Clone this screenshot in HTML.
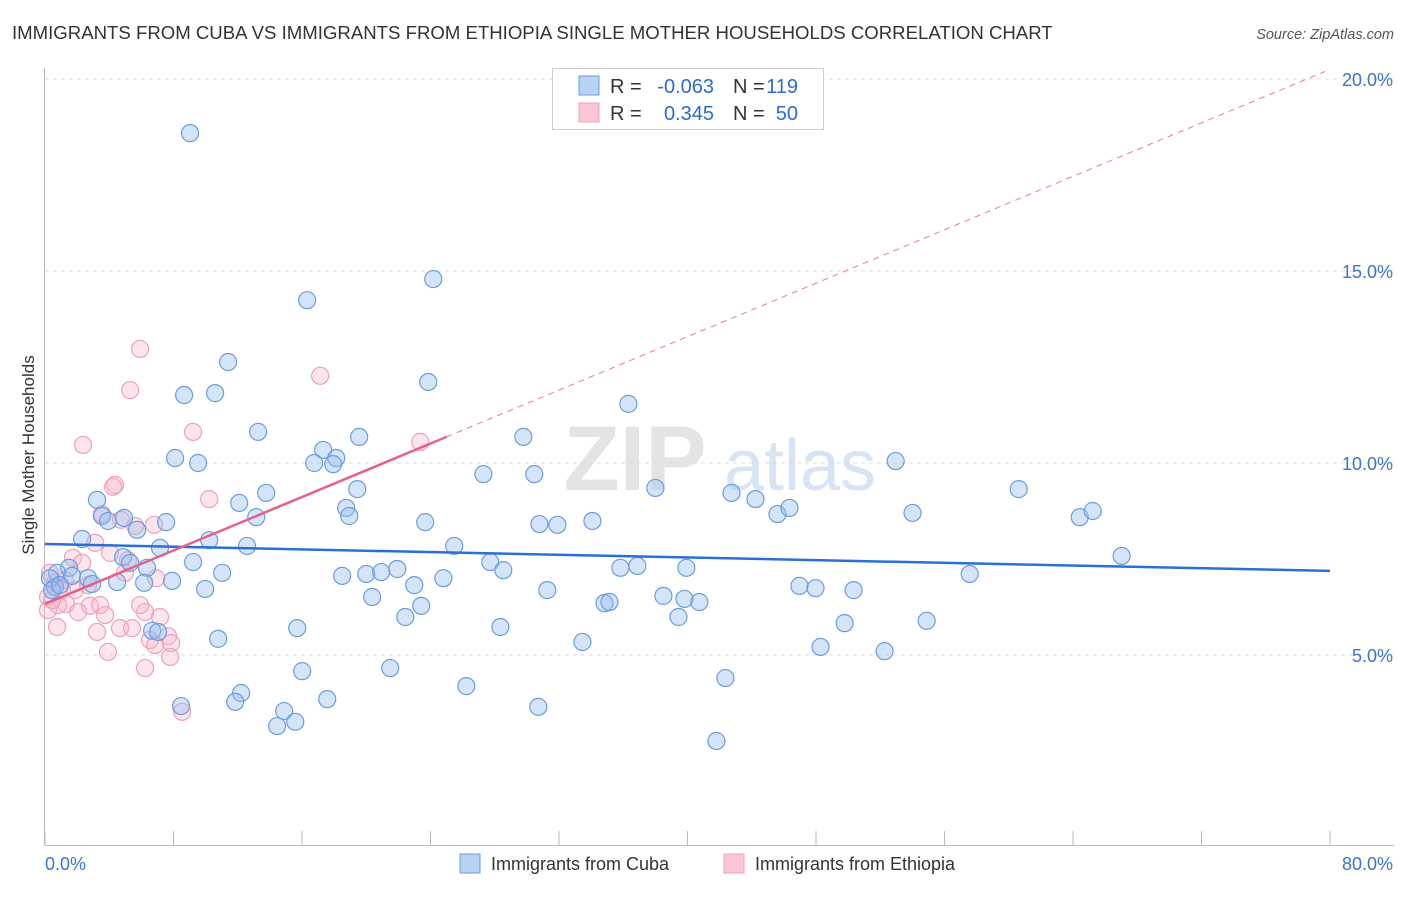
<!DOCTYPE html>
<html><head><meta charset="utf-8"><style>
body{margin:0;background:#fff;font-family:"Liberation Sans",sans-serif;}
svg text{font-family:"Liberation Sans",sans-serif;}
</style></head><body>
<svg id="chart" width="1406" height="892" xmlns="http://www.w3.org/2000/svg">
<text x="12" y="39" font-size="18.6" fill="#333">IMMIGRANTS FROM CUBA VS IMMIGRANTS FROM ETHIOPIA SINGLE MOTHER HOUSEHOLDS CORRELATION CHART</text>
<text x="1394" y="39" font-size="14.5" fill="#555" font-style="italic" text-anchor="end">Source: ZipAtlas.com</text>
<g>
<text x="635" y="490" font-size="92" font-family="Liberation Serif,serif" fill="#e4e4e4" text-anchor="middle" font-weight="bold">ZIP</text>
<text x="800" y="490" font-size="72" fill="#d6e4f4" text-anchor="middle">atlas</text>
</g>
<g id="grid"></g>
<g id="axes"></g>
<g id="marks"></g>
<text x="34" y="455" font-size="17" fill="#333" text-anchor="middle" transform="rotate(-90 34 455)">Single Mother Households</text>
<g>
<rect x="552.5" y="68.5" width="271" height="61" fill="#fff" stroke="#ccc"/>
<rect x="579" y="76" width="20" height="19" fill="#b8d2f4" stroke="#6a9de0"/>
<rect x="579" y="103" width="20" height="19" fill="#fac6d4" stroke="#f0a0b8"/>
<text x="610" y="93" font-size="20" fill="#333">R =</text>
<text x="714" y="93" font-size="20" fill="#2d6bd4" text-anchor="end">-0.063</text>
<text x="733" y="93" font-size="20" fill="#333">N =</text>
<text x="798" y="93" font-size="20" fill="#2d6bd4" text-anchor="end">119</text>
<text x="610" y="120" font-size="20" fill="#333">R =</text>
<text x="714" y="120" font-size="20" fill="#2d6bd4" text-anchor="end">0.345</text>
<text x="733" y="120" font-size="20" fill="#333">N =</text>
<text x="798" y="120" font-size="20" fill="#2d6bd4" text-anchor="end">50</text>
</g>
<g>
<rect x="460" y="854" width="20" height="19" fill="#b8d2f4" stroke="#6a9de0"/>
<text x="491" y="870" font-size="18" fill="#333">Immigrants from Cuba</text>
<rect x="724" y="854" width="20" height="19" fill="#fac6d4" stroke="#f0a0b8"/>
<text x="755" y="870" font-size="18" fill="#333">Immigrants from Ethiopia</text>
</g>
</svg>
<script>
const yTicks=[5,10,15,20];
const yTickLabels=["5.0%","10.0%","15.0%","20.0%"];
const xTickLabels=["0.0%","80.0%"];
const cubaX=[9.03,16.32,24.17,11.40,23.86,8.66,10.59,36.32,13.27,19.56,29.78,8.10,9.53,17.32,18.13,16.76,17.94,52.96,27.29,30.46,3.24,13.77,12.09,19.44,38.0,42.74,44.23,60.62,18.75,18.94,13.15,3.55,3.92,4.92,5.73,7.54,23.67,30.78,31.90,34.08,45.60,46.35,54.01,64.42,65.23,10.22,2.31,7.16,12.58,25.48,67.03,4.86,5.30,9.22,1.50,0.75,1.68,2.68,6.35,11.03,18.50,20.0,20.93,21.93,27.72,28.53,24.80,35.82,36.88,39.93,57.57,4.49,6.17,7.91,2.93,0.62,9.97,22.99,31.27,46.97,47.97,50.34,20.37,23.42,22.43,34.83,35.14,38.50,39.81,40.74,39.44,6.67,7.04,15.70,28.35,49.78,54.89,10.78,33.46,48.28,52.27,16.01,21.49,42.36,26.23,12.21,11.84,8.47,17.57,30.71,14.89,14.45,15.58,41.80,0.31,0.44,0.93];
const cubaY=[18.59,14.24,14.79,12.63,12.11,11.77,11.82,11.54,10.81,10.68,10.68,10.13,10.0,10.34,10.13,10.0,9.97,10.05,9.71,9.71,9.04,9.22,8.96,9.32,9.35,9.22,9.06,9.32,8.83,8.62,8.59,8.62,8.49,8.57,8.26,8.46,8.46,8.41,8.39,8.49,8.67,8.83,8.70,8.59,8.75,7.99,8.02,7.79,7.84,7.84,7.58,7.55,7.40,7.42,7.27,7.14,7.06,7.0,7.27,7.14,7.06,7.11,7.16,7.24,7.42,7.21,7.0,7.27,7.32,7.27,7.11,6.90,6.88,6.93,6.85,6.77,6.72,6.82,6.69,6.80,6.74,6.69,6.51,6.28,5.99,6.35,6.38,6.54,6.46,6.38,5.99,5.63,5.60,5.70,5.73,5.83,5.89,5.42,5.34,5.21,5.10,4.58,4.66,4.40,4.19,4.01,3.78,3.67,3.85,3.65,3.54,3.15,3.26,2.76,7.0,6.69,6.82];
const ethX=[5.92,5.30,17.13,2.37,9.22,23.36,4.36,4.24,10.22,3.55,4.73,6.79,5.61,3.12,4.05,1.74,2.31,6.92,4.98,0.31,0.62,1.06,0.19,1.31,0.81,2.80,3.43,2.06,3.74,6.23,7.16,0.75,3.24,4.67,5.42,7.66,6.54,6.85,7.85,3.92,7.79,6.23,8.54,1.25,1.87,0.19,0.44,2.68,5.92,5.17];
const ethY=[12.97,11.90,12.27,10.47,10.81,10.55,9.43,9.38,9.06,8.67,8.52,8.39,8.36,7.92,7.66,7.53,7.40,7.0,7.14,7.14,6.88,6.69,6.51,6.33,6.30,6.28,6.30,6.12,6.04,6.12,5.99,5.73,5.60,5.70,5.70,5.49,5.39,5.26,5.31,5.08,4.95,4.66,3.52,6.95,6.69,6.17,6.43,6.82,6.30,7.47];
const cubaTrend=[7.89,7.19];
const ethTrend=[6.33,0.174];
const ethSolidEnd=25.0;

const NS="http://www.w3.org/2000/svg";
const X0=45,X1=1330,Y0=847,PX=(X1-X0)/80,PY=768/20;
function sx(v){return X0+v*PX;}
function sy(v){return Y0-v*PY;}
function el(tag,attrs,parent){const e=document.createElementNS(NS,tag);for(const k in attrs)e.setAttribute(k,attrs[k]);parent.appendChild(e);return e;}
const grid=document.getElementById('grid'),axes=document.getElementById('axes'),marks=document.getElementById('marks');
yTicks.forEach((t,i)=>{
 const g=el('line',{x1:45,x2:1394,y1:sy(t),y2:sy(t),stroke:'#ddd','stroke-dasharray':'4,4'},grid);
 
 
 const tx=el('text',{x:1393,y:sy(t)+7,'font-size':18,fill:'#3b73d6','text-anchor':'end'},axes);
 tx.textContent=yTickLabels[i];
 
 
});
const ya=el('line',{x1:44.5,x2:44.5,y1:68,y2:845,stroke:'#bbb'},axes);


const xa=el('line',{x1:45,x2:1394,y1:845.5,y2:845.5,stroke:'#bbb'},axes);


for(let i=0;i<=10;i++){
 const t=el('line',{x1:sx(i*8),x2:sx(i*8),y1:831,y2:845,stroke:'#bbb'},axes);
 
 
}
const xl0=el('text',{x:45,y:870,'font-size':18,fill:'#3b73d6'},axes);
xl0.textContent=xTickLabels[0];


const xl1=el('text',{x:1393,y:870,'font-size':18,fill:'#3b73d6','text-anchor':'end'},axes);
xl1.textContent=xTickLabels[1];



ethX.forEach((x,i)=>{
 const c=el('circle',{cx:sx(x),cy:sy(ethY[i]),r:8.5,fill:'rgba(248,180,200,0.35)',stroke:'#f0a0b8','stroke-width':1.2},marks);
 
 
});
cubaX.forEach((x,i)=>{
 const c=el('circle',{cx:sx(x),cy:sy(cubaY[i]),r:8.5,fill:'rgba(150,190,240,0.4)',stroke:'#6a9de0','stroke-width':1.2},marks);
 
 
});
const cl=el('line',{x1:sx(0),y1:sy(cubaTrend[0]),x2:sx(80),y2:sy(cubaTrend[1]),stroke:'#2a6fd6','stroke-width':2.5},marks);


const ed=el('line',{x1:sx(ethSolidEnd),y1:sy(ethTrend[0]+ethTrend[1]*ethSolidEnd),x2:sx(79.7),y2:sy(ethTrend[0]+ethTrend[1]*79.7),stroke:'#e8789a','stroke-width':1,'stroke-dasharray':'6,5'},marks);


const es=el('line',{x1:sx(0),y1:sy(ethTrend[0]),x2:sx(ethSolidEnd),y2:sy(ethTrend[0]+ethTrend[1]*ethSolidEnd),stroke:'#e5608a','stroke-width':2.5},marks);


</script>
</body></html>
